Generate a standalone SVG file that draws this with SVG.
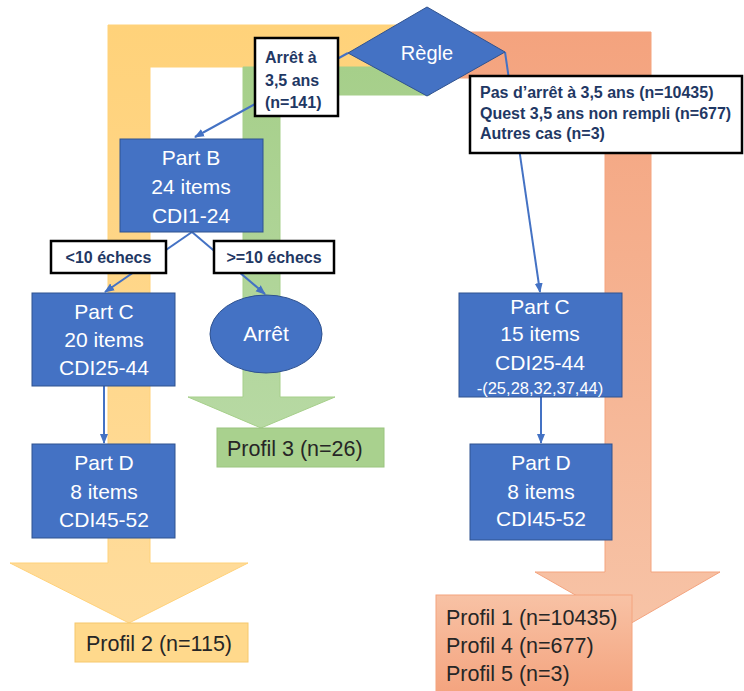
<svg xmlns="http://www.w3.org/2000/svg" width="744" height="691" viewBox="0 0 744 691">
<style>
.node{fill:#4472C4;stroke:#2F528F;stroke-width:1}
.nt{font-family:"Liberation Sans",Arial,sans-serif;font-size:21px;fill:#FFFFFF;text-anchor:middle}
.lbl{fill:#FFFFFF;stroke:#000000;stroke-width:2.5}
.lt{font-family:"Liberation Sans",Arial,sans-serif;font-size:16px;font-weight:bold;fill:#1F3864}
.pt{font-family:"Liberation Sans",Arial,sans-serif;font-size:21.5px;fill:#262626}
.con{stroke:#4472C4;stroke-width:2;fill:none;marker-end:url(#ah)}
</style>
<defs>
<marker id="ah" markerWidth="10" markerHeight="10" refX="9" refY="5" orient="auto" markerUnits="userSpaceOnUse">
<path d="M0,1 L10,5 L0,9 Z" fill="#4472C4"/>
</marker>
<linearGradient id="gy" x1="0" y1="0" x2="0" y2="1"><stop offset="0" stop-color="#FFD27A"/><stop offset="1" stop-color="#FFDC9C"/></linearGradient>
<linearGradient id="gg" x1="0" y1="0" x2="0" y2="1"><stop offset="0" stop-color="#A6CF8A"/><stop offset="1" stop-color="#B7D9A3"/></linearGradient>
<linearGradient id="go" x1="0" y1="0" x2="0" y2="1"><stop offset="0" stop-color="#F4A37E"/><stop offset="1" stop-color="#F7C3A6"/></linearGradient>
<linearGradient id="gp" x1="0" y1="0" x2="0" y2="1"><stop offset="0" stop-color="#F8C2A5"/><stop offset="1" stop-color="#F4A47F"/></linearGradient>
</defs>
<g id="bands">
<path id="band-orange" d="M420,32 H651 V572 H720 L628,625 L535,572 H605 V78 H420 Z" fill="url(#go)" stroke="#F4A47F" stroke-width="1"/>
<path id="band-yellow" d="M420,25 H108 V563 H10 L129,623 L248,563 H150 V67 H420 Z" fill="url(#gy)" stroke="#FFD27A" stroke-width="1"/>
<path id="band-green" d="M430,67 H243 V397 H188 L261,428 L335,397 H280 V95 H430 Z" fill="url(#gg)" stroke="#A6CF8A" stroke-width="1"/>
</g>
<g id="profil2"><rect x="75" y="623" width="173" height="39" fill="#FFD98C" stroke="#F6C86C" stroke-width="1"/><text class="pt" x="86" y="651">Profil 2 (n=115)</text></g>
<g id="profil3"><rect x="217" y="428" width="167" height="39" fill="#A9D18E" stroke="#9AC47E" stroke-width="1"/><text class="pt" x="227" y="456">Profil 3 (n=26)</text></g>
<g id="profil145"><rect x="436" y="595" width="196" height="97" fill="url(#gp)" stroke="#F4A47F" stroke-width="1"/>
<text class="pt" x="446" y="625">Profil 1 (n=10435)</text>
<text class="pt" x="446" y="653">Profil 4 (n=677)</text>
<text class="pt" x="446" y="681">Profil 5 (n=3)</text></g>
<g id="connectors">
<line class="con" x1="348" y1="53" x2="195" y2="137"/>
<line class="con" x1="505" y1="52" x2="540" y2="292"/>
<line class="con" x1="192" y1="232" x2="105" y2="292"/>
<line class="con" x1="192" y1="232" x2="265" y2="294"/>
<line class="con" x1="104" y1="386" x2="104" y2="443"/>
<line class="con" x1="541" y1="397" x2="541" y2="443"/>
</g>
<g id="regle"><path class="node" d="M348,53 L427,7 L505,52 L427,96 Z"/><text class="nt" x="427" y="60" style="font-size:20px">Règle</text></g>
<g id="label-arret"><rect class="lbl" x="255" y="38" width="83" height="78"/>
<text class="lt" x="265" y="63">Arrêt à</text><text class="lt" x="265" y="86">3,5 ans</text><text class="lt" x="265" y="108">(n=141)</text></g>
<g id="label-pas"><rect class="lbl" x="470" y="76" width="272" height="77"/>
<text class="lt" x="480" y="98">Pas d’arrêt à 3,5 ans (n=10435)</text>
<text class="lt" x="480" y="119">Quest 3,5 ans non rempli (n=677)</text>
<text class="lt" x="480" y="139">Autres cas (n=3)</text></g>
<g id="partB"><rect class="node" x="120" y="139" width="143" height="93"/>
<text class="nt" x="191" y="165">Part B</text><text class="nt" x="191" y="194">24 items</text><text class="nt" x="191" y="223">CDI1-24</text></g>
<g id="label-lt10"><rect class="lbl" x="51" y="241" width="115" height="32"/><text class="lt" x="108.5" y="263" text-anchor="middle">&lt;10 échecs</text></g>
<g id="label-ge10"><rect class="lbl" x="214" y="241" width="120" height="32"/><text class="lt" x="274" y="263" text-anchor="middle">&gt;=10 échecs</text></g>
<g id="partC-left"><rect class="node" x="32" y="293" width="143" height="93"/>
<text class="nt" x="104" y="319">Part C</text><text class="nt" x="104" y="347">20 items</text><text class="nt" x="104" y="375">CDI25-44</text></g>
<g id="arret"><ellipse class="node" cx="266" cy="334" rx="56" ry="39"/><text class="nt" x="266" y="341">Arrêt</text></g>
<g id="partD-left"><rect class="node" x="32" y="444" width="143" height="94"/>
<text class="nt" x="104" y="470">Part D</text><text class="nt" x="104" y="499">8 items</text><text class="nt" x="104" y="527">CDI45-52</text></g>
<g id="partC-right"><rect class="node" x="459" y="293" width="163" height="104"/>
<text class="nt" x="540" y="314">Part C</text><text class="nt" x="540" y="341">15 items</text><text class="nt" x="540" y="370">CDI25-44</text>
<text class="nt" x="540" y="394" style="font-size:16.5px">-(25,28,32,37,44)</text></g>
<g id="partD-right"><rect class="node" x="470" y="444" width="142" height="96"/>
<text class="nt" x="541" y="470">Part D</text><text class="nt" x="541" y="499">8 items</text><text class="nt" x="541" y="526">CDI45-52</text></g>
</svg>
